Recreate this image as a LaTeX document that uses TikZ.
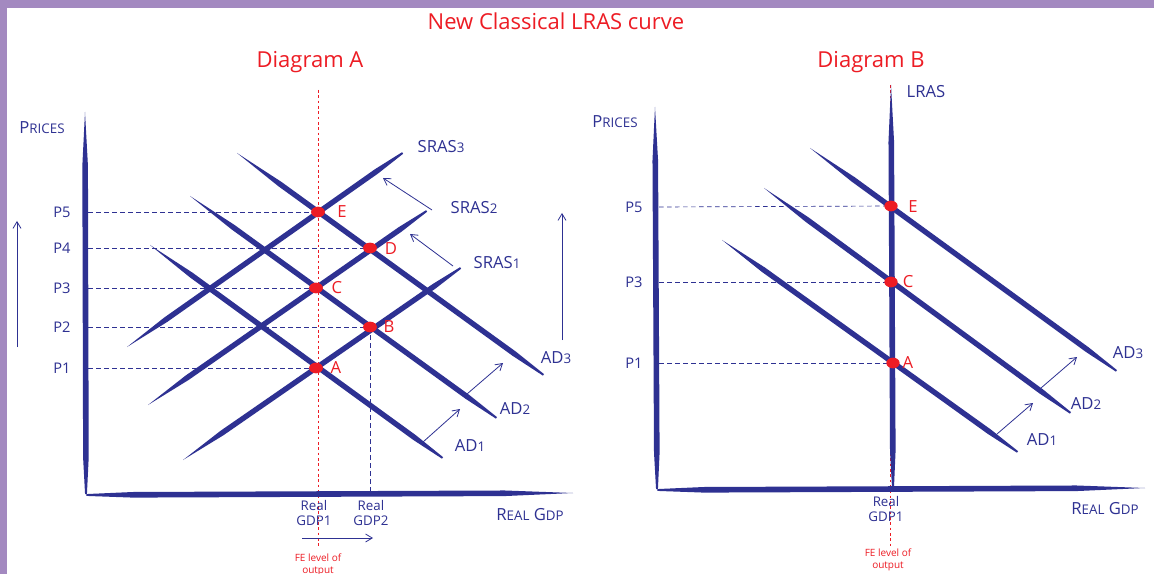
\documentclass[tikz,border=0pt]{standalone}
\usepackage{fontspec}
\setmainfont{Open Sans}
\usetikzlibrary{calc,arrows.meta}
\definecolor{inkblue}{HTML}{2E3192}
\definecolor{inkred}{HTML}{ED1C24}
\definecolor{framepurple}{HTML}{A389C0}
% tapered brush stroke from #1 (thin start) to #2
\newcommand\brushline[3][2pt]{%
  \fill[inkblue] (#2)
    -- ($(#2)!0.14!(#3)!#1!90:(#3)$)
    -- ($(#2)!0.9!(#3)!#1!90:(#3)$)
    -- ($(#2)!0.995!(#3)!0.7pt!90:(#3)$)
    -- ($(#2)!0.995!(#3)!0.7pt!-90:(#3)$)
    -- ($(#2)!0.9!(#3)!#1!-90:(#3)$)
    -- ($(#2)!0.14!(#3)!#1!-90:(#3)$)
    -- cycle;}
\newcommand\sm[1]{{\fontsize{10}{12}\selectfont #1}}
\tikzset{
  titletext/.style={text=inkred,font=\fontsize{16.5}{19}\selectfont,inner sep=0pt},
  ptext/.style={text=inkblue,font=\fontsize{11}{13}\selectfont,inner sep=0pt},
  hand/.style={text=inkblue,font=\fontsize{12.5}{14}\selectfont,inner sep=0pt},
  ptlabel/.style={text=inkred,font=\fontsize{12.5}{14}\selectfont,inner sep=0pt},
  gdptext/.style={text=inkblue,font=\fontsize{10}{11}\selectfont,align=center,inner sep=0pt},
  fetext/.style={text=inkred,font=\fontsize{7.5}{8.5}\selectfont,align=center,inner sep=0pt},
  guide/.style={inkblue,line width=0.5pt,dash pattern=on 3.5pt off 2.5pt},
  fe/.style={inkred,line width=0.7pt,dash pattern=on 2pt off 2pt},
  thinarrow/.style={inkblue,line width=0.6pt,-{Straight Barb[length=5pt,width=6pt]}},
  dotstyle/.style={fill=inkred},
}
\begin{document}
\begin{tikzpicture}[x=0.75pt,y=-0.75pt]
\useasboundingbox (0,0) rectangle (1154,574);
\fill[white] (0,0) rectangle (1154,574);
\fill[framepurple] (0,0) rectangle (1154,8);
\fill[framepurple] (0,0) rectangle (7,574);

\node[titletext] (title) at (556,21) {New Classical LRAS curve};
\node[titletext] (dA) at (310,62) {Diagram A};
\node[titletext] (dB) at (871,62) {Diagram B};

% ================= Diagram A =================
\coordinate (Ay0) at (85,112);
\coordinate (Ao) at (86,496);
\coordinate (Ax1) at (573,493);
\coordinate (Ao2) at (84,495);
\coordinate (FEtop) at (318,90);
\coordinate (FEbot) at (318,546);
\draw[fe] (FEtop) -- (FEbot);

\coordinate (pA) at (316,368);
\coordinate (pB) at (370,327);
\coordinate (pC) at (316,288);
\coordinate (pD) at (370,248);
\coordinate (pE) at (318,212);

\coordinate (a5) at (88,212);
\coordinate (a4) at (88,248);
\coordinate (a3) at (88,288);
\coordinate (a2) at (88,327);
\coordinate (a1) at (88,368);
\coordinate (gB) at (370,495);
\draw[guide] (a5) -- (pE);
\draw[guide] (a4) -- (pD);
\draw[guide] (a3) -- (pC);
\draw[guide] (a2) -- (pB);
\draw[guide] (a1) -- (pA);
\draw[guide] (pB) -- (gB);

\coordinate (ad1s) at (150,245); \coordinate (ad1e) at (444,459);
\coordinate (ad2s) at (190,196); \coordinate (ad2e) at (498,419);
\coordinate (ad3s) at (237,153); \coordinate (ad3e) at (545,376);
\brushline{ad1s}{ad1e}
\brushline{ad2s}{ad2e}
\brushline{ad3s}{ad3e}
\coordinate (s1s) at (183,460); \coordinate (s1e) at (462,267);
\coordinate (s2s) at (148,405); \coordinate (s2e) at (428,210);
\coordinate (s3s) at (127,347); \coordinate (s3e) at (404,152);
\brushline{s1s}{s1e}
\brushline{s2s}{s2e}
\brushline{s3s}{s3e}

% axes A
\brushline[2.1pt]{Ay0}{Ao}
\brushline[2.1pt]{Ax1}{Ao2}

\foreach \p in {pA,pB,pC,pD,pE}{\fill[dotstyle] (\p) ellipse [x radius=5.2pt,y radius=4pt];}

\node[hand] (pricesA) at (42,128) {P\sm{RICES}};
\node[ptext] (lP5) at (62,212) {P5};
\node[ptext] (lP4) at (62,248) {P4};
\node[ptext] (lP3) at (62,288) {P3};
\node[ptext] (lP2) at (62,327) {P2};
\node[ptext] (lP1) at (62,368) {P1};
\node[ptlabel] (lE) at (342,212) {E};
\node[ptlabel] (lD) at (391,249) {D};
\node[ptlabel] (lC) at (337,288) {C};
\node[ptlabel] (lB) at (389,327) {B};
\node[ptlabel] (lA) at (336,368) {A};
\node[hand] (lS3) at (441,147) {SRAS\sm{3}};
\node[hand] (lS2) at (474,208) {SRAS\sm{2}};
\node[hand] (lS1) at (497,263) {SRAS\sm{1}};
\node[hand] (lAD3) at (556,358) {AD\sm{3}};
\node[hand] (lAD2) at (515,409) {AD\sm{2}};
\node[hand] (lAD1) at (470,446) {AD\sm{1}};
\node[gdptext] (g1) at (314,513) {Real\\GDP1};
\node[gdptext] (g2) at (371,513) {Real\\GDP2};
\node[hand] (rgA) at (530,515) {R\sm{EAL} G\sm{DP}};
\node[fetext] (feA) at (318,565) {FE level of\\output};

\coordinate (upL0) at (17,347); \coordinate (upL1) at (17,221);
\draw[thinarrow] (upL0) -- (upL1);
\coordinate (upR0) at (562,340); \coordinate (upR1) at (562,213);
\draw[thinarrow] (upR0) -- (upR1);
\coordinate (sa1) at (432,210); \coordinate (sa2) at (383,178);
\draw[thinarrow] (sa1) -- (sa2);
\coordinate (sb1) at (453,266); \coordinate (sb2) at (410,234);
\draw[thinarrow] (sb1) -- (sb2);
\coordinate (da1) at (423,442); \coordinate (da2) at (460,409);
\draw[thinarrow] (da1) -- (da2);
\coordinate (db1) at (467,394); \coordinate (db2) at (503,363);
\draw[thinarrow] (db1) -- (db2);
\coordinate (ga1) at (302,538); \coordinate (ga2) at (373,538);
\draw[thinarrow] (ga1) -- (ga2);

% ================= Diagram B =================
\coordinate (By0) at (655,107);
\coordinate (Bo) at (657,491);
\coordinate (Bx1) at (1145,488);
\coordinate (Bo2) at (655,490);
\coordinate (FEBtop) at (890,85);
\coordinate (FEBbot) at (890,548);
\draw[fe] (FEBtop) -- (FEBbot);

\coordinate (qE) at (891,206);
\coordinate (qC) at (891,282);
\coordinate (qA) at (893,363);
\coordinate (b5) at (659,207);
\coordinate (b3) at (659,282);
\coordinate (b1) at (659,363);
\draw[guide] (b5) -- (qE);
\draw[guide] (b3) -- (qC);
\draw[guide] (b1) -- (qA);

\coordinate (bd1s) at (722,240); \coordinate (bd1e) at (1019,453);
\coordinate (bd2s) at (764,188); \coordinate (bd2e) at (1072,414);
\coordinate (bd3s) at (810,148); \coordinate (bd3e) at (1118,372);
\brushline{bd1s}{bd1e}
\brushline{bd2s}{bd2e}
\brushline{bd3s}{bd3e}

\coordinate (L0) at (891,85);
\coordinate (L1) at (893,491);
\brushline[2.1pt]{L0}{L1}

\brushline[2.1pt]{By0}{Bo}
\brushline[2.1pt]{Bx1}{Bo2}

\foreach \p in {qA,qC,qE}{\fill[dotstyle] (\p) ellipse [x radius=5pt,y radius=4pt];}

\node[hand] (pricesB) at (615,122) {P\sm{RICES}};
\node[ptext] (mP5) at (634,207) {P5};
\node[ptext] (mP3) at (634,282) {P3};
\node[ptext] (mP1) at (634,363) {P1};
\node[ptlabel] (mE) at (913,207) {E};
\node[ptlabel] (mC) at (908,282) {C};
\node[ptlabel] (mA) at (908,363) {A};
\node[hand] (mL) at (926,92) {LRAS};
\node[hand] (mAD3) at (1128,353) {AD\sm{3}};
\node[hand] (mAD2) at (1086,404) {AD\sm{2}};
\node[hand] (mAD1) at (1042,440) {AD\sm{1}};
\node[gdptext] (h1) at (886,509) {Real\\GDP1};
\node[hand] (rgB) at (1105,509) {R\sm{EAL} G\sm{DP}};
\node[fetext] (feB) at (888,560) {FE level of\\output};

\coordinate (ea1) at (997,434); \coordinate (ea2) at (1033,403);
\draw[thinarrow] (ea1) -- (ea2);
\coordinate (eb1) at (1041,388); \coordinate (eb2) at (1077,357);
\draw[thinarrow] (eb1) -- (eb2);
\end{tikzpicture}
\end{document}
